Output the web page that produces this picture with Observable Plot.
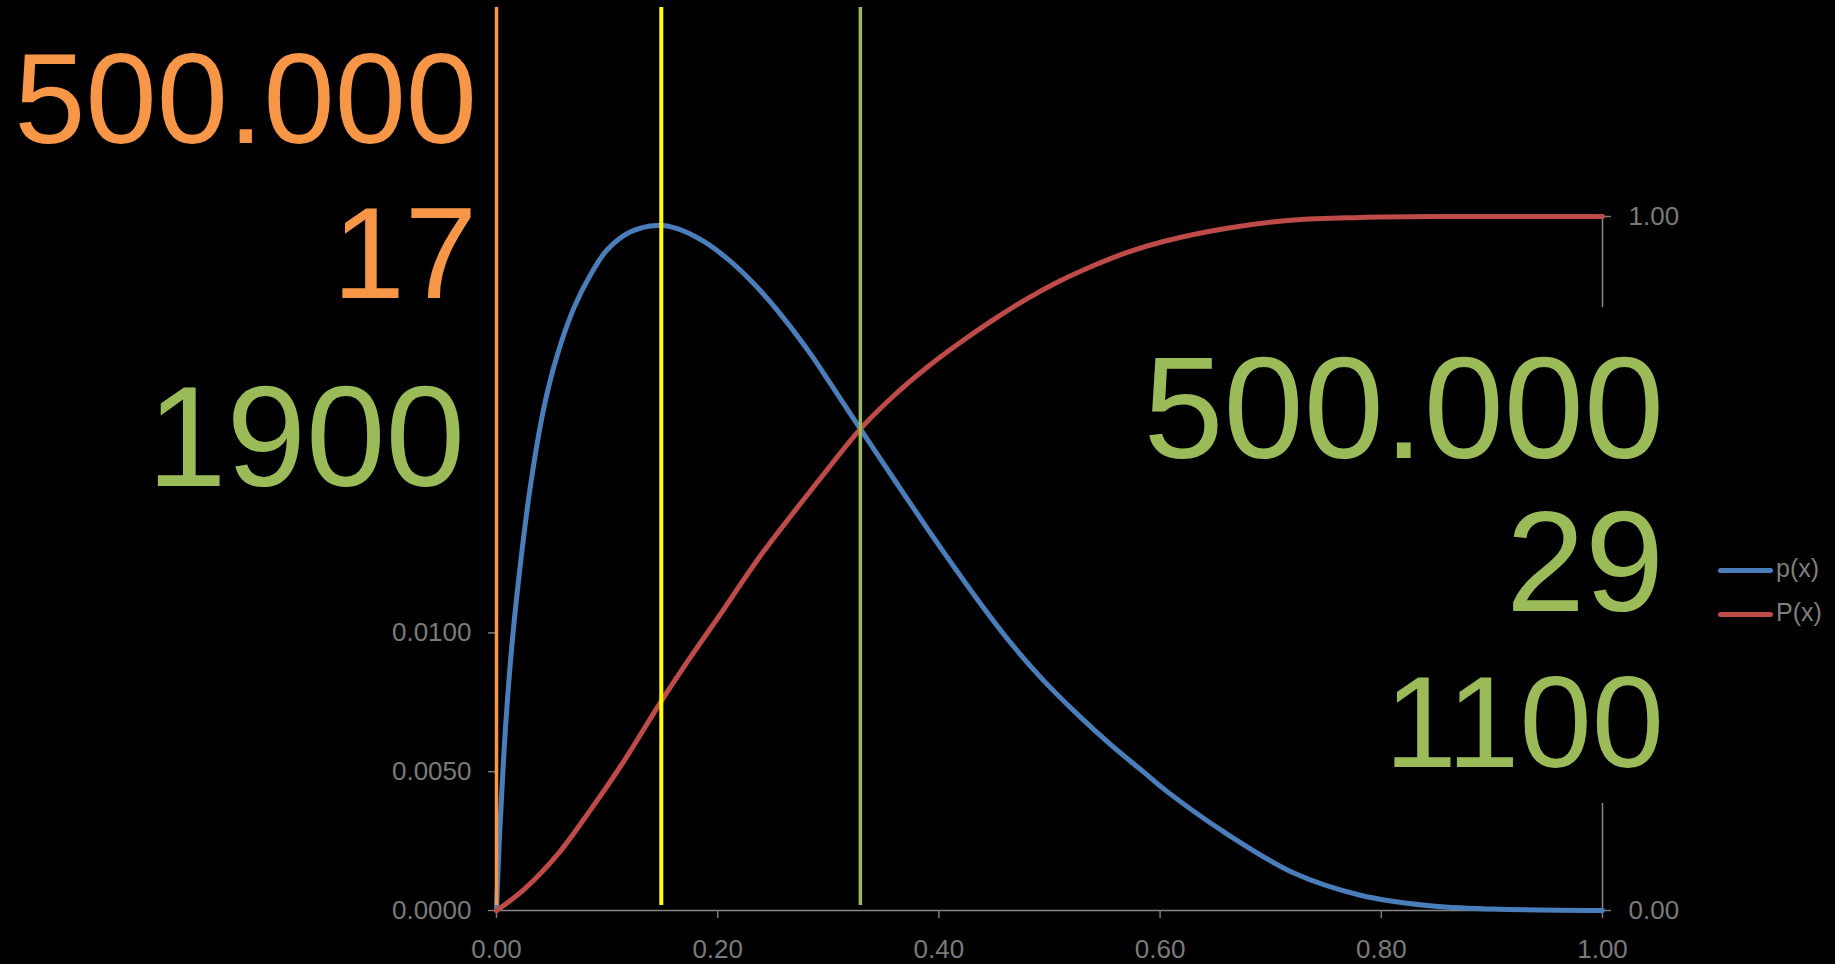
<!DOCTYPE html>
<html><head><meta charset="utf-8">
<script src="https://cdn.jsdelivr.net/npm/d3@7"></script>
<script src="https://cdn.jsdelivr.net/npm/@observablehq/plot@0.6"></script>
<style>
html,body{margin:0;padding:0;background:#000;}
#wrap{position:relative;width:1835px;height:964px;overflow:hidden;font-family:"Liberation Sans",Arial,sans-serif;}
#wrap svg{position:absolute;left:0;top:0;}
.box{position:absolute;background:#000;}
.big{position:absolute;white-space:nowrap;line-height:1;text-align:right;}
.leg{position:absolute;font-size:25px;color:#7f7f7f;line-height:1;white-space:nowrap;}
.leg span{display:inline-block;width:55px;height:5px;border-radius:3px;vertical-align:middle;margin-right:3px;}
</style></head><body><div id="wrap"></div>
<script>
// ---- data ----
const densityX = [0, 0.0025, 0.0055, 0.0085, 0.0138, 0.0211, 0.0307, 0.0428, 0.0549, 0.0699, 0.085, 0.1001, 0.1212, 0.1453, 0.1634, 0.1874, 0.2116, 0.2357, 0.2598, 0.2839, 0.300, 0.3285, 0.3587, 0.3888, 0.4089, 0.434, 0.4641, 0.4943, 0.5244, 0.5545, 0.5847, 0.6058, 0.6607, 0.7209, 0.7812, 0.8415, 0.9015, 1.0];
const densityY = [0, 0.0025, 0.0048, 0.0068, 0.0095, 0.0123, 0.0153, 0.0181, 0.0200, 0.0217, 0.0229, 0.0238, 0.02445, 0.02468, 0.02456, 0.0241, 0.02338, 0.02245, 0.02133, 0.02005, 0.0191, 0.01738, 0.01558, 0.0138, 0.01265, 0.01125, 0.00968, 0.0083, 0.0071, 0.006, 0.005, 0.0043, 0.00275, 0.00135, 0.00055, 0.00018, 0.00005, 0];
const cumX = [0, 0.0247, 0.0549, 0.085, 0.1151, 0.1483, 0.1754, 0.2055, 0.2372, 0.300, 0.3285, 0.3587, 0.3888, 0.4189, 0.4491, 0.4792, 0.5093, 0.5395, 0.5696, 0.603, 0.6607, 0.7209, 0.7812, 0.85, 0.92, 1.0];
const cumY = [0, 0.030, 0.080, 0.145, 0.215, 0.300, 0.365, 0.434, 0.508, 0.637, 0.693, 0.741, 0.782, 0.818, 0.851, 0.881, 0.907, 0.929, 0.948, 0.964, 0.983, 0.995, 0.9987, 1.0, 1.0, 1.0];
const markerX = [0, 0.149, 0.329];
const xTicks = [0, 0.2, 0.4, 0.6, 0.8, 1.0];
const densityTicks = [0, 0.005, 0.01];
const cumTicks = [0, 1];
const seriesNames = ["p(x)", "P(x)"];
const leftLabels = ["500.000", "17"];
const leftLabel2 = "1900";
const rightLabels = ["500.000", "29", "1100"];

// ---- styles ----
const yMax = 0.025;
const BLUE = "#4A7EBB", RED = "#BE4B48", ORANGE = "#F79646", YELLOW = "#FFFF00", GREEN = "#9BBB59", GRAY = "#7a7a7a", AXIS = "#868686";
const markerColors = [ORANGE, YELLOW, GREEN];
const markerWidths = [3.5, 4, 3.5];

const dens = densityX.map((x, i) => ({x, y: densityY[i]}));
const cum = cumX.map((x, i) => ({x, y: cumY[i]}));

const plot = Plot.plot({
  width: 1835, height: 964,
  marginTop: 7, marginBottom: 54, marginLeft: 496, marginRight: 233,
  x: {domain: [0, 1], range: [496, 1602]},
  y: {domain: [0, yMax], range: [910, 216]},
  style: {background: "#000", color: GRAY, fontSize: "26px", fontFamily: "Liberation Sans, Arial, sans-serif"},
  marks: [
    Plot.ruleY([0], {x1: 0, x2: 1, stroke: AXIS, strokeWidth: 1.5}),
    Plot.ruleX([0, 1], {y1: 0, y2: yMax, stroke: AXIS, strokeWidth: 1.5}),
    Plot.axisX({ticks: xTicks, tickFormat: d3.format(".2f"), tickSize: 8, tickPadding: 21, color: GRAY, strokeWidth: 1.5, label: null}),
    Plot.axisY({anchor: "left", ticks: densityTicks, tickFormat: d3.format(".4f"), tickSize: 8, tickPadding: 17, color: GRAY, strokeWidth: 1.5, label: null}),
    Plot.axisY({anchor: "right", ticks: cumTicks.map(t => t * yMax), tickFormat: d => d3.format(".2f")(d / yMax), tickSize: 8, tickPadding: 18, color: GRAY, strokeWidth: 1.5, label: null}),
    Plot.line(dens, {x: "x", y: "y", stroke: BLUE, strokeWidth: 5, curve: "catmull-rom"}),
    Plot.line(cum, {x: "x", y: d => d.y * yMax, stroke: RED, strokeWidth: 5, curve: "catmull-rom"}),
    ...markerX.map((mx, i) => Plot.ruleX([mx], {stroke: markerColors[i], strokeWidth: markerWidths[i], insetBottom: 5}))
  ]
});
const wrap = document.getElementById("wrap");
wrap.appendChild(plot);

function addDiv(cls, css, html) {
  const d = document.createElement("div");
  d.className = cls;
  Object.assign(d.style, css);
  if (html != null) d.innerHTML = html;
  wrap.appendChild(d);
  return d;
}
// right text box with black fill (hides the middle of the right axis, as in the reference)
addDiv("box", {left: "1190px", top: "307px", width: "475px", height: "496px"});

// left block
addDiv("big", {right: (1835 - 477) + "px", top: "35px", fontSize: "128px", color: ORANGE}, leftLabels[0]);
addDiv("big", {right: (1835 - 477) + "px", top: "188px", fontSize: "130px", color: ORANGE}, leftLabels[1]);
addDiv("big", {right: (1835 - 465) + "px", top: "365px", fontSize: "143px", color: GREEN}, leftLabel2);
// right block
const rightTops = [337, 491, 657];
const rightSizes = [144, 142, 130];
rightLabels.forEach((t, i) => addDiv("big", {right: (1835 - 1664) + "px", top: rightTops[i] + "px", fontSize: rightSizes[i] + "px", color: GREEN}, t));

// legend
addDiv("leg", {left: "1718px", top: "556px"}, `<span style="background:${BLUE}"></span>${seriesNames[0]}`);
addDiv("leg", {left: "1718px", top: "600px"}, `<span style="background:${RED}"></span>${seriesNames[1]}`);
</script></body></html>
